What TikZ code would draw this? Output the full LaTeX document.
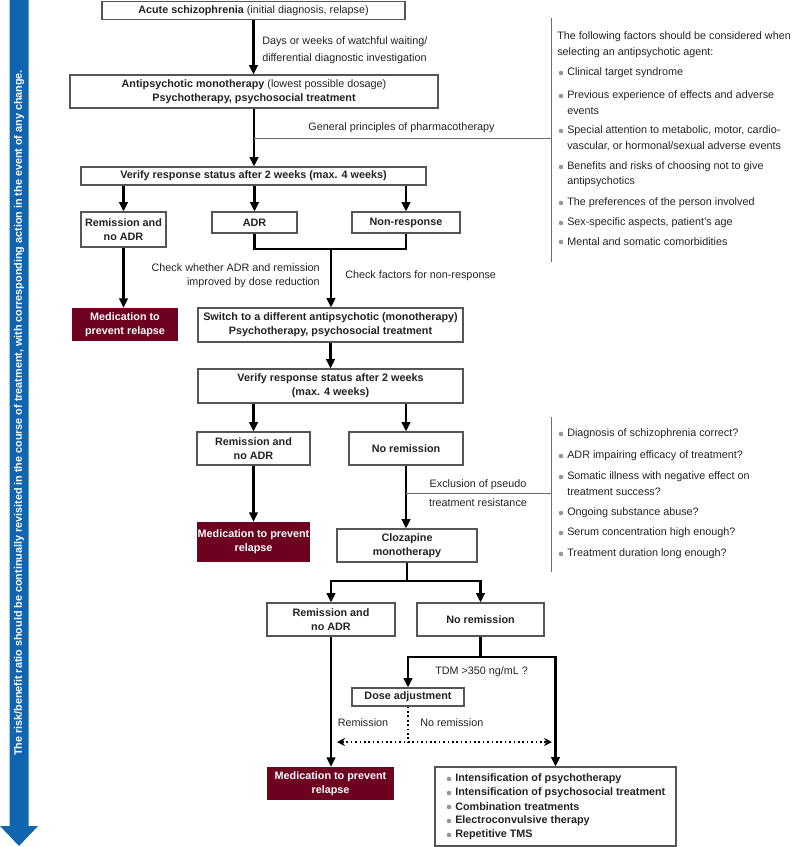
\documentclass[tikz,border=0pt]{standalone}
\usepackage{fontspec}
\setmainfont{Liberation Sans}
\usetikzlibrary{arrows.meta,fit}
\definecolor{bluearr}{RGB}{16,101,174}
\definecolor{medred}{RGB}{110,0,32}
\definecolor{boxgray}{RGB}{85,85,85}
\definecolor{linegray}{RGB}{110,110,110}
\definecolor{bulletgray}{RGB}{150,150,150}
\definecolor{txt}{RGB}{35,35,35}
\newcommand\myfs{\fontsize{8.1pt}{10.3pt}\selectfont}
\begin{document}
\begin{tikzpicture}[x=0.75pt,y=-0.75pt,
  box/.style={draw=boxgray,line width=0.9pt,fill=white,inner sep=0pt},
  medbox/.style={fill=medred,draw=none,inner sep=0pt},
  btxt/.style={inner sep=0pt,align=center,font=\bfseries\myfs,text=txt},
  wtxt/.style={inner sep=0pt,align=center,font=\bfseries\myfs,text=white},
  arr/.style={line width=1.6pt,-{Triangle[length=7pt,width=6.5pt]}},
  thk/.style={line width=1.6pt},
  gline/.style={draw=linegray,line width=0.7pt},
  lbl/.style={font=\myfs,text=txt,inner sep=0pt},
  dotline/.style={line width=1.3pt,dotted},
  dotarr/.style={line width=1.3pt,dotted,{Stealth[length=6pt,width=6pt]}-{Stealth[length=6pt,width=6pt]}},
  bul/.style={fill=bulletgray}]
\useasboundingbox (0,0) rectangle (798,847);

% side arrow
\fill[bluearr] (9.5,0) -- (28.5,0) -- (28.5,826) -- (38,826) -- (19,846) -- (0,826) -- (9.5,826) -- cycle;
\node[rotate=90,text=white,font=\bfseries\myfs,inner sep=0pt] (side) at (19,413) {The risk/benefit ratio should be continually revisited in the course of treatment, with corresponding action in the event of any change.};

% boxes
\node[box,fit={(102,1.5) (405,19.5)}] (acute) {};
\node[btxt] (acute-t) at (acute) {Acute schizophrenia \mdseries(initial diagnosis, relapse)};
\node[box,fit={(70,75) (438,108)}] (anti) {};
\node[btxt] (anti-t) at (anti) {Antipsychotic monotherapy \mdseries(lowest possible dosage)\\Psychotherapy, psychosocial treatment};
\node[box,fit={(81,167) (426,185)}] (ver1) {};
\node[btxt] (ver1-t) at (ver1) {Verify response status after 2 weeks (max. 4 weeks)};
\node[box,fit={(81,212) (166,247)}] (rem1) {};
\node[btxt] (rem1-t) at (rem1) {Remission and\\no ADR};
\node[box,fit={(212,212) (297,233)}] (adr) {};
\node[btxt] (adr-t) at (adr) {ADR};
\node[box,fit={(352,212) (460,233)}] (nonr) {};
\node[btxt] (nonr-t) at (nonr) {Non-response};
\node[medbox,fit={(72,308) (178,341)}] (med1) {};
\node[wtxt] (med1-t) at (med1) {Medication to\\prevent relapse};
\node[box,fit={(198,308) (463,342)}] (switch) {};
\node[btxt] (switch-t) at (switch) {Switch to a different antipsychotic (monotherapy)\\Psychotherapy, psychosocial treatment};
\node[box,fit={(198,369) (463,403)}] (ver2) {};
\node[btxt] (ver2-t) at (ver2) {Verify response status after 2 weeks\\(max. 4 weeks)};
\node[box,fit={(197,432) (310,465)}] (rem2) {};
\node[btxt] (rem2-t) at (rem2) {Remission and\\no ADR};
\node[box,fit={(349,432) (463,465)}] (norem2) {};
\node[btxt] (norem2-t) at (norem2) {No remission};
\node[medbox,fit={(197,522) (310,562)}] (med2) {};
\node[wtxt] (med2-t) at (med2) {Medication to prevent\\relapse};
\node[box,fit={(337,529) (477,562)}] (cloz) {};
\node[btxt] (cloz-t) at (cloz) {Clozapine\\monotherapy};
\node[box,fit={(267,603) (395,636)}] (rem3) {};
\node[btxt] (rem3-t) at (rem3) {Remission and\\no ADR};
\node[box,fit={(417,603) (544,636)}] (norem3) {};
\node[btxt] (norem3-t) at (norem3) {No remission};
\node[box,fit={(352,688) (464,706)}] (dose) {};
\node[btxt] (dose-t) at (dose) {Dose adjustment};
\node[medbox,fit={(267,767) (394,800)}] (med3) {};
\node[wtxt] (med3-t) at (med3) {Medication to prevent\\relapse};
\node[box,fit={(435,767) (676,846)}] (final) {};

% connectors
\coordinate (j1) at (331,249);
\coordinate (j2) at (407,581);
\coordinate (j3) at (480.5,657);
\draw[arr] (acute.south) -- (acute.south |- anti.north);
\draw[arr] (anti.south) -- (anti.south |- ver1.north);
\draw[arr] (rem1.north |- ver1.south) -- (rem1.north);
\draw[arr] (adr.north |- ver1.south) -- (adr.north);
\draw[arr] (nonr.north |- ver1.south) -- (nonr.north);
\draw[thk] (adr.south) |- (j1) -| (nonr.south);
\draw[arr] (j1) -- (j1 |- switch.north);
\draw[arr] (rem1.south) -- (rem1.south |- med1.north);
\draw[arr] (switch.south) -- (switch.south |- ver2.north);
\draw[arr] (rem2.north |- ver2.south) -- (rem2.north);
\draw[arr] (norem2.north |- ver2.south) -- (norem2.north);
\draw[arr] (rem2.south) -- (rem2.south |- med2.north);
\draw[arr] (norem2.south) -- (norem2.south |- cloz.north);
\draw[arr] (cloz.south) |- (rem3.north |- j2) -- (rem3.north);
\draw[arr] (cloz.south |- j2) -| (norem3.north);
\draw[arr] (rem3.south) -- (rem3.south |- med3.north);
\draw[arr] (norem3.south) |- (dose.north |- j3) -- (dose.north);
\draw[arr] (norem3.south |- j3) -| (final.north);
\coordinate (dl) at (337,742);
\coordinate (dr) at (552,742);
\draw[dotline] (dose.south) -- (dose.south |- dl);
\draw[dotarr] (dl) -- (dr);

% annotation lines
\coordinate (pa1) at (551,18);
\coordinate (pa2) at (551,262);
\coordinate (pb1) at (551,417);
\coordinate (pb2) at (551,572);
\draw[gline] (pa1) -- (pa2);
\draw[gline] (pb1) -- (pb2);
\draw[gline] (anti.south |- 0,138) -- (pa1 |- 0,138);
\draw[gline] (norem2.south |- 0,493) -- (pb1 |- 0,493);

% labels
\node[lbl,anchor=west] (l1a) at (262,42) {Days or weeks of watchful waiting/};
\node[lbl,anchor=west] (l1b) at (262,59) {differential diagnostic investigation};
\node[lbl] (l2) at (401.5,128) {General principles of pharmacotherapy};
\node[lbl,anchor=east,align=right] (l3) at (320,276) {Check whether ADR and remission\\improved by dose reduction};
\node[lbl,anchor=west] (l4) at (345,276) {Check factors for non-response};
\node[lbl] (l5) at (478,485) {Exclusion of pseudo};
\node[lbl] (l6) at (478,503) {treatment resistance};
\node[lbl,anchor=west] (l7) at (435,672) {TDM >350 ng/mL ?};
\node[lbl] (l8) at (363,723) {Remission};
\node[lbl,anchor=west] (l9) at (420,723) {No remission};

% right panel 1
\node[lbl,anchor=west] at (557,37) {The following factors should be considered when};
\node[lbl,anchor=west] at (557,53) {selecting an antipsychotic agent:};
\foreach \y in {73,96,131,167,203,223,242} {\fill[bul] (561,\y) circle (2.3);}
\node[lbl,anchor=west] at (567,73) {Clinical target syndrome};
\node[lbl,anchor=west] at (567,96) {Previous experience of effects and adverse};
\node[lbl,anchor=west] at (567,111) {events};
\node[lbl,anchor=west] at (567,131) {Special attention to metabolic, motor, cardio-};
\node[lbl,anchor=west] at (567,146) {vascular, or hormonal/sexual adverse events};
\node[lbl,anchor=west] at (567,167) {Benefits and risks of choosing not to give};
\node[lbl,anchor=west] at (567,182) {antipsychotics};
\node[lbl,anchor=west] at (567,203) {The preferences of the person involved};
\node[lbl,anchor=west] at (567,223) {Sex-specific aspects, patient’s age};
\node[lbl,anchor=west] at (567,242) {Mental and somatic comorbidities};

% right panel 2
\foreach \y in {434,456,477,513,533,554} {\fill[bul] (561,\y) circle (2.3);}
\node[lbl,anchor=west] at (567,434) {Diagnosis of schizophrenia correct?};
\node[lbl,anchor=west] at (567,456) {ADR impairing efficacy of treatment?};
\node[lbl,anchor=west] at (567,477) {Somatic illness with negative effect on};
\node[lbl,anchor=west] at (567,492) {treatment success?};
\node[lbl,anchor=west] at (567,513) {Ongoing substance abuse?};
\node[lbl,anchor=west] at (567,533) {Serum concentration high enough?};
\node[lbl,anchor=west] at (567,554) {Treatment duration long enough?};

% final box content
\foreach \y in {779,793,807,821,835} {\fill[bul] (449,\y) circle (2.3);}
\node[lbl,font=\bfseries\myfs,anchor=west] at (455,779) {Intensification of psychotherapy};
\node[lbl,font=\bfseries\myfs,anchor=west] at (455,793) {Intensification of psychosocial treatment};
\node[lbl,font=\bfseries\myfs,anchor=west] at (455,807) {Combination treatments};
\node[lbl,font=\bfseries\myfs,anchor=west] at (455,821) {Electroconvulsive therapy};
\node[lbl,font=\bfseries\myfs,anchor=west] at (455,835) {Repetitive TMS};
\end{tikzpicture}
\end{document}
